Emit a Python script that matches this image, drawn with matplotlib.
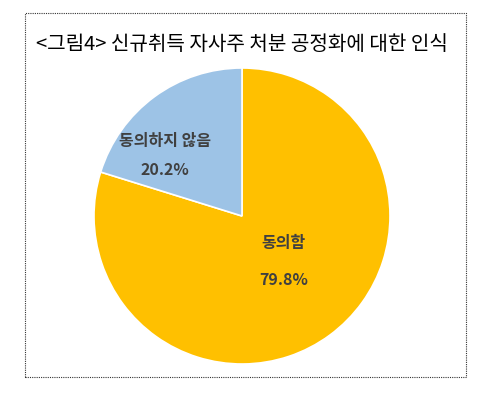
import matplotlib.pyplot as plt
from matplotlib.patches import Rectangle

plt.rcParams['font.family'] = ['Noto Sans CJK KR', 'DejaVu Sans']

labels = ['동의함', '동의하지 않음']
values = [79.8, 20.2]
colors = ['#FFC000', '#9DC3E6']

fig = plt.figure(figsize=(4.91, 4.07), dpi=100)
fig.patches.append(Rectangle((25 / 491, 1 - 377 / 407), 441 / 491, 364 / 407,
                             transform=fig.transFigure, fill=False,
                             edgecolor='#333333', linestyle=(0, (1, 1)), linewidth=0.8))
fig.text(242 / 491, 1 - 45 / 407, '<그림4> 신규취득 자사주 처분 공정화에 대한 인식',
         ha='center', va='center', fontsize=14.5, stretch='condensed')

r = 148
ax = fig.add_axes([(242 - r) / 491, 1 - (216 + r) / 407, 2 * r / 491, 2 * r / 407])
wedges, _ = ax.pie(values, colors=colors, startangle=90, counterclock=False,
                   wedgeprops=dict(edgecolor='white', linewidth=1.2))
ax.set_aspect('auto')
ax.set_xlim(-1, 1)
ax.set_ylim(-1, 1)

style = dict(ha='center', va='center', fontsize=11.5, color='#404040', fontweight='bold')
ax.text(0.28, -0.18, labels[0], **style)
ax.text(0.28, -0.43, f'{values[0]}%', **style)
ax.text(-0.52, 0.51, labels[1], **style)
ax.text(-0.52, 0.31, f'{values[1]}%', **style)

fig.savefig('out.png', dpi=100)
